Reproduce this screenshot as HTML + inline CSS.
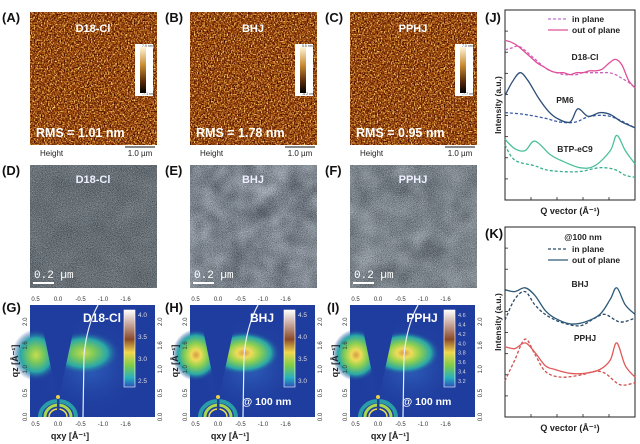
<!DOCTYPE html>
<html><head><meta charset="utf-8"><style>
html,body{margin:0;padding:0;background:#fff;}
svg{display:block;font-family:"Liberation Sans",Arial,sans-serif;}
filter{color-interpolation-filters:sRGB;}
</style></head><body>
<svg id="fig" width="640" height="444" viewBox="0 0 640 444" xmlns="http://www.w3.org/2000/svg">
<defs>
<filter id="afmc" x="0" y="0" width="100%" height="100%" color-interpolation-filters="sRGB">
 <feTurbulence type="fractalNoise" baseFrequency="0.7" numOctaves="2" seed="5" result="n"/>
 <feColorMatrix in="n" type="matrix" values="0.33 0.33 0.33 0 0  0.33 0.33 0.33 0 0  0.33 0.33 0.33 0 0  0 0 0 0 1" result="g"/>
 <feComponentTransfer in="g" result="s">
  <feFuncR type="linear" slope="3" intercept="-1"/>
  <feFuncG type="linear" slope="3" intercept="-1"/>
  <feFuncB type="linear" slope="3" intercept="-1"/>
 </feComponentTransfer>
 <feComponentTransfer in="s">
  <feFuncR type="table" tableValues="0.15 0.35 0.5 0.7 0.92 1"/>
  <feFuncG type="table" tableValues="0.03 0.1 0.2 0.38 0.68 0.9"/>
  <feFuncB type="table" tableValues="0 0.01 0.03 0.1 0.3 0.55"/>
 </feComponentTransfer>
</filter>
<filter id="tem" x="0" y="0" width="100%" height="100%" color-interpolation-filters="sRGB">
 <feTurbulence type="fractalNoise" baseFrequency="1.2" numOctaves="1" seed="7" result="n"/>
 <feColorMatrix in="n" type="matrix" values="0.33 0.33 0.33 0 0  0.33 0.33 0.33 0 0  0.33 0.33 0.33 0 0  0 0 0 0 1" result="g"/>
 <feComponentTransfer in="g">
  <feFuncR type="linear" slope="2.2" intercept="-0.6"/>
  <feFuncG type="linear" slope="2.2" intercept="-0.58"/>
  <feFuncB type="linear" slope="2.2" intercept="-0.55"/>
  <feFuncA type="linear" slope="0" intercept="0.5"/>
 </feComponentTransfer>
</filter>
<filter id="blot" x="0" y="0" width="100%" height="100%" color-interpolation-filters="sRGB">
 <feTurbulence type="fractalNoise" baseFrequency="0.045" numOctaves="2" seed="11" result="n"/>
 <feColorMatrix in="n" type="matrix" values="0.33 0.33 0.33 0 0  0.33 0.33 0.33 0 0  0.33 0.33 0.33 0 0  0 0 0 0 1" result="g"/>
 <feComponentTransfer in="g">
  <feFuncR type="linear" slope="2.5" intercept="-0.8"/>
  <feFuncG type="linear" slope="2.5" intercept="-0.77"/>
  <feFuncB type="linear" slope="2.5" intercept="-0.72"/>
  <feFuncA type="linear" slope="0" intercept="0.6"/>
 </feComponentTransfer>
</filter>
<radialGradient id="blobY" cx="50%" cy="50%" r="50%">
 <stop offset="0" stop-color="#c8dc50"/><stop offset="0.3" stop-color="#7cc85a"/><stop offset="0.65" stop-color="#2aa8a8"/><stop offset="1" stop-color="#1f3d9e" stop-opacity="0"/>
</radialGradient>
<radialGradient id="blobO" cx="50%" cy="50%" r="50%">
 <stop offset="0" stop-color="#d89a48"/><stop offset="0.2" stop-color="#eedc58"/><stop offset="0.45" stop-color="#8cd050"/><stop offset="0.75" stop-color="#2aa8a8"/><stop offset="1" stop-color="#1f3d9e" stop-opacity="0"/>
</radialGradient>
<radialGradient id="halo" cx="50%" cy="50%" r="50%">
 <stop offset="0" stop-color="#3a78d0"/><stop offset="1" stop-color="#1f3d9e" stop-opacity="0"/>
</radialGradient>
<linearGradient id="cbar" x1="0" y1="0" x2="0" y2="1">
 <stop offset="0" stop-color="#ffffff"/><stop offset="0.18" stop-color="#c8a8a0"/><stop offset="0.38" stop-color="#8a4a2a"/><stop offset="0.55" stop-color="#f2d84a"/><stop offset="0.72" stop-color="#7ccc4a"/><stop offset="0.88" stop-color="#28b0c0"/><stop offset="1" stop-color="#2a50b8"/>
</linearGradient>
<linearGradient id="afmbar" x1="0" y1="0" x2="0" y2="1">
 <stop offset="0" stop-color="#fff6d8"/><stop offset="0.4" stop-color="#c88a30"/><stop offset="0.75" stop-color="#5a2a08"/><stop offset="1" stop-color="#000"/>
</linearGradient>
</defs>
<g id="root"></g>
</svg>
<script>
// ---- J panel data (q in Å^-1 arbitrary 0..2, intensity a.u. 0..10) ----
const jQ = [0,0.1,0.2,0.3,0.4,0.5,0.6,0.7,0.8,0.9,1.0,1.1,1.2,1.3,1.4,1.5,1.6,1.7,1.8,1.9,2.0];
const d18OOP = [8.4,8.3,8.1,7.8,7.5,7.2,7.0,6.8,6.7,6.7,6.6,6.7,6.7,6.8,6.8,6.9,7.2,7.4,7.1,6.3,5.9];
const d18IP  = [7.9,8.0,8.1,7.9,7.6,7.3,7.0,6.8,6.7,6.6,6.6,6.6,6.7,6.7,6.7,6.7,6.7,6.6,6.4,6.2,5.9];
const pm6OOPq = [0,0.11,0.23,0.35,0.51,0.66,0.80,1.0,1.12,1.28,1.46,1.62,1.8,2.0];
const pm6OOP  = [5.5,6.2,6.7,6.3,5.4,4.7,4.3,4.1,4.8,4.4,4.6,4.5,4.1,3.8];
const pm6IPq = [0,0.31,0.62,0.85,1.08,1.31,1.62,2.0];
const pm6IP  = [4.6,4.5,4.3,4.1,4.1,4.4,4.4,3.8];
const btpOOPq = [0,0.15,0.31,0.46,0.69,0.85,1.15,1.38,1.62,1.72,1.85,2.0];
const btpOOP  = [3.2,2.7,2.6,3.1,2.4,2.1,1.7,1.8,2.6,3.4,2.6,1.9];
const btpIPq = [0,0.15,0.46,0.62,0.85,1.15,1.46,1.69,1.85,2.0];
const btpIP  = [2.9,2.1,1.8,1.6,1.5,1.5,1.7,1.6,1.3,1.2];
// ---- K panel data ----
const kOOPq = [0,0.15,0.31,0.46,0.62,0.77,1.0,1.23,1.46,1.62,1.72,1.85,2.0];
const bhjOOP = [6.7,6.6,6.8,6.4,5.6,5.2,4.9,5.0,5.4,6.2,6.8,5.9,5.4];
const pphjOOP = [3.7,3.6,3.9,3.4,2.7,2.5,2.3,2.3,2.5,3.0,3.9,2.7,2.1];
const kIPq = [0,0.15,0.31,0.46,0.62,0.85,1.15,1.38,1.54,1.77,2.0];
const bhjIP = [5.1,6.2,6.6,5.9,5.4,5.0,4.8,5.2,5.4,5.0,5.2];
const pphjIP = [1.9,3.0,4.1,3.3,2.4,2.1,2.2,2.4,2.3,1.7,1.8];
// ---- GIWAXS tick labels ----
const qxyTicks = ["0.5","0.0","-0.5","-1.0","-1.6"];
const qxyTickVals = [0.5,0.0,-0.5,-1.0,-1.5];
const qzTicks = ["0.0","0.5","1.0","1.6","2.0"];
const qzTickVals = [0.0,0.5,1.0,1.5,2.0];
const cbarG = ["4.0","3.5","3.0","2.5"];
const cbarH = ["4.5","4.0","3.5","3.0"];
const cbarI = ["4.6","4.4","4.2","4.0","3.8","3.6","3.4","3.2"];

const NS="http://www.w3.org/2000/svg";
const root=document.getElementById('root');
function mk(tag,attrs,parent,text){const e=document.createElementNS(NS,tag);for(const k in attrs)e.setAttribute(k,attrs[k]);if(text!==undefined)e.textContent=text;(parent||root).appendChild(e);return e;}

[["(A)",2,22],["(B)",165,22],["(C)",325,22],["(D)",2,175],["(E)",165,175],["(F)",325,175],["(G)",2,312],["(H)",165,312],["(I)",327,312],["(J)",485,22],["(K)",485,238]].forEach(p=>{
 const t=mk('text',{x:p[1],y:p[2],'font-size':13,'font-weight':'bold',fill:'#111'},root,p[0]);
 
 
});

const afm=[{x:30,lab:"D18-Cl",rms:"RMS = 1.01 nm",hi:"7.9 nm",lo:"-7.1 nm"},{x:190,lab:"BHJ",rms:"RMS = 1.78 nm",hi:"5.5 nm",lo:"-5.2 nm"},{x:350,lab:"PPHJ",rms:"RMS = 0.95 nm",hi:"7.0 nm",lo:"-7.7 nm"}];
afm.forEach((a,i)=>{
 const g=mk('g',{});
 
 
 mk('rect',{x:a.x,y:12,width:127,height:133,fill:'#6a2a08'},g);
 mk('rect',{x:a.x,y:12,width:127,height:133,filter:'url(#afmc)'},g);
 mk('text',{x:a.x+63,y:32,'font-size':11,'font-weight':'bold',fill:'#fff','text-anchor':'middle'},g,a.lab);
 mk('text',{x:a.x+6,y:137,'font-size':12.5,'font-weight':'bold',fill:'#fff'},g,a.rms);
 mk('rect',{x:a.x+105,y:44,width:18,height:52,fill:'#fff'},g);
 mk('rect',{x:a.x+110,y:47,width:6,height:46,fill:'url(#afmbar)'},g);
 mk('text',{x:a.x+112,y:47,'font-size':3.5,fill:'#333'},g,a.hi);
 mk('text',{x:a.x+112,y:95,'font-size':3.5,fill:'#333'},g,a.lo);
 mk('text',{x:a.x+10,y:156,'font-size':8,fill:'#222'},g,"Height");
 mk('line',{x1:a.x+95,y1:147,x2:a.x+125,y2:147,stroke:'#111','stroke-width':1},g);
 mk('text',{x:a.x+110,y:156,'font-size':8,fill:'#222','text-anchor':'middle'},g,"1.0 µm");
});

const tem=[{x:30,lab:"D18-Cl",base:'#4e5a5e',blot:0.2},{x:190,lab:"BHJ",base:'#86939a',blot:0.9},{x:350,lab:"PPHJ",base:'#7d898e',blot:0.6}];
tem.forEach(t=>{
 const g=mk('g',{});
 
 
 mk('rect',{x:t.x,y:165,width:127,height:123,fill:t.base},g);
 mk('rect',{x:t.x,y:165,width:127,height:123,filter:'url(#blot)',opacity:t.blot},g);
 mk('rect',{x:t.x,y:165,width:127,height:123,filter:'url(#tem)'},g);
 mk('text',{x:t.x+63,y:183,'font-size':11,'font-weight':'bold',fill:'#eef','text-anchor':'middle'},g,t.lab);
 mk('text',{x:t.x+4,y:278,'font-size':11,fill:'#fff','font-family':'Liberation Mono, monospace'},g,"0.2 µm");
 mk('line',{x1:t.x+3,y1:283,x2:t.x+24,y2:283,stroke:'#fff','stroke-width':2},g);
});

const gi=[{x:30,lab:"D18-Cl",bright:false,cb:cbarG,sub:false},{x:190,lab:"BHJ",bright:true,cb:cbarH,sub:true},{x:350,lab:"PPHJ",bright:true,cb:cbarI,sub:true}];
gi.forEach(p=>{
 const ox=p.x, oy=305, W=125, H=112;
 const sx=v=>ox+28-v*45;
 const sy=v=>oy+H-v*(H/2.35);
 const g=mk('g',{});
 
 
 mk('rect',{x:ox,y:oy,width:W,height:H,fill:'#1f3d9e'},g);
 mk('ellipse',{cx:ox+60,cy:oy+62,rx:55,ry:50,fill:'url(#halo)',opacity:0.6},g);
 mk('ellipse',{cx:ox+6,cy:oy+50,rx:24,ry:26,fill:p.bright?'url(#blobO)':'url(#blobY)'},g);
 mk('ellipse',{cx:ox+54,cy:oy+48,rx:36,ry:22,fill:p.bright?'url(#blobO)':'url(#blobY)'},g);
 mk('polygon',{points:`${ox+8},${oy} ${ox+49},${oy} ${ox+29},${oy+92} ${ox+27},${oy+92}`,fill:'#1f3d9e'},g);
 mk('path',{d:`M${ox+10},${oy+H} A18 16 0 0 1 ${ox+46},${oy+H}`,fill:'none',stroke:'#2aa8a8','stroke-width':4,opacity:0.9},g);
 mk('path',{d:`M${ox+15},${oy+H} A13 12 0 0 1 ${ox+41},${oy+H}`,fill:'none',stroke:'#a8d850','stroke-width':3},g);
 mk('path',{d:`M${ox+19},${oy+H} A9 8 0 0 1 ${ox+37},${oy+H}`,fill:'none',stroke:'#f0e050','stroke-width':1.5},g);
 mk('rect',{x:ox+27,y:oy+84,width:2.5,height:28,fill:'#1f3d9e'},g);
 mk('circle',{cx:ox+28,cy:oy+92,r:2,fill:'#e8d050'},g);
 mk('path',{d:`M${ox+53},${oy+H} L${ox+54},${oy+50} Q${ox+57},${oy+20} ${ox+68},${oy}`,fill:'none',stroke:'#e8eef8','stroke-width':1.2},g);
 mk('rect',{x:ox+94,y:oy+5,width:11,height:77,fill:'url(#cbar)',stroke:'#fff','stroke-width':0.6},g);
 p.cb.forEach((c,k)=>{
  const yy=oy+10+k*(66/(p.cb.length-1));
  const t=mk('text',{x:ox+108,y:yy+2,'font-size':p.cb.length>4?5.5:6.5,fill:'#ddd'},g,c);
  
  
 });
 mk('text',{x:ox+72,y:oy+17,'font-size':12,'font-weight':'bold',fill:'#fff','text-anchor':'middle'},g,p.lab);
 if(p.sub) mk('text',{x:ox+52,y:oy+100,'font-size':10.5,'font-weight':'bold',fill:'#fff'},g,"@ 100 nm");
 qxyTickVals.forEach((v,k)=>{
  const xx=sx(v);
  mk('text',{x:xx,y:oy-4,'font-size':6,fill:'#333','text-anchor':'middle'},g,qxyTicks[k]);
  mk('text',{x:xx,y:oy+H+9,'font-size':6,fill:'#333','text-anchor':'middle'},g,qxyTicks[k]);
 });
 qzTickVals.forEach((v,k)=>{
  const yy=sy(v);
  mk('text',{x:ox-3,y:yy,'font-size':6,fill:'#333','text-anchor':'middle',transform:`rotate(-90 ${ox-3} ${yy})`},g,qzTicks[k]);
  mk('text',{x:ox+W+7,y:yy,'font-size':6,fill:'#333','text-anchor':'middle',transform:`rotate(-90 ${ox+W+7} ${yy})`},g,qzTicks[k]);
 });
 mk('text',{x:ox-12,y:oy+56,'font-size':9,'font-weight':'bold',fill:'#222','text-anchor':'middle',transform:`rotate(-90 ${ox-12} ${oy+56})`},g,"qz [Å⁻¹]");
 mk('text',{x:ox+40,y:oy+H+22,'font-size':9,'font-weight':'bold',fill:'#222','text-anchor':'middle'},g,"qxy [Å⁻¹]");
});

function smooth(pts){let d=`M${pts[0][0]},${pts[0][1]}`;for(let i=0;i<pts.length-1;i++){const p0=pts[i-1]||pts[i],p1=pts[i],p2=pts[i+1],p3=pts[i+2]||p2;const c1=[p1[0]+(p2[0]-p0[0])/6,p1[1]+(p2[1]-p0[1])/6],c2=[p2[0]-(p3[0]-p1[0])/6,p2[1]-(p3[1]-p1[1])/6];d+=` C${c1[0].toFixed(1)},${c1[1].toFixed(1)} ${c2[0].toFixed(1)},${c2[1].toFixed(1)} ${p2[0].toFixed(1)},${p2[1].toFixed(1)}`;}return d;}
function chart(box,name,series,legend,labels){
 const g=mk('g',{});
 
 
 const xS=q=>box.x+q/2*box.w, yS=v=>box.y+box.h-v/10*box.h;
 mk('rect',{x:box.x,y:box.y,width:box.w,height:box.h,fill:'none',stroke:'#222','stroke-width':1},g);
 for(let k=1;k<9;k++){mk('line',{x1:box.x,y1:box.y+k*box.h/9,x2:box.x+3,y2:box.y+k*box.h/9,stroke:'#222','stroke-width':0.8},g);}
 for(let k=1;k<5;k++){mk('line',{x1:box.x+k*box.w/5,y1:box.y+box.h,x2:box.x+k*box.w/5,y2:box.y+box.h-3,stroke:'#222','stroke-width':0.8},g);}
 series.forEach(s=>{
  const pts=s.q.map((q,i)=>[xS(q),yS(s.v[i])]);
  const p=mk('path',{d:smooth(pts),fill:'none',stroke:s.c,'stroke-width':1.3,'stroke-dasharray':s.dash?'3,2':'none'},g);
  
  
 });
 legend.forEach(l=>{
  mk('line',{x1:l.x,y1:l.y-3,x2:l.x+20,y2:l.y-3,stroke:l.c,'stroke-width':1.3,'stroke-dasharray':l.dash?'3,2':'none'},g);
  const t=mk('text',{x:l.x+24,y:l.y,'font-size':8.5,'font-weight':'bold',fill:'#222'},g,l.t);
  
  
 });
 labels.forEach(l=>mk('text',{x:l[1],y:l[2],'font-size':8.5,'font-weight':'bold',fill:'#222','text-anchor':'middle'},g,l[0]));
 mk('text',{x:box.x-4,y:box.y+box.h/2,'font-size':8.5,'font-weight':'bold',fill:'#222','text-anchor':'middle',transform:`rotate(-90 ${box.x-4} ${box.y+box.h/2})`},g,"Intensity (a.u.)");
 mk('text',{x:box.x+box.w/2,y:box.y+box.h+14,'font-size':9,'font-weight':'bold',fill:'#222','text-anchor':'middle'},g,"Q vector (Å⁻¹)");
}
chart({x:505,y:10,w:130,h:190},'giwaxs-linecut-j',[
 {q:jQ,v:d18IP,c:'#d060c0',dash:true,n:'d18-in-plane'},
 {q:jQ,v:d18OOP,c:'#e0509a',dash:false,n:'d18-out-of-plane'},
 {q:pm6IPq,v:pm6IP,c:'#3a5aa8',dash:true,n:'pm6-in-plane'},
 {q:pm6OOPq,v:pm6OOP,c:'#2e4f78',dash:false,n:'pm6-out-of-plane'},
 {q:btpIPq,v:btpIP,c:'#3aaf90',dash:true,n:'btp-in-plane'},
 {q:btpOOPq,v:btpOOP,c:'#4cc09c',dash:false,n:'btp-out-of-plane'}
],[{x:548,y:22,c:'#c070d0',dash:true,t:'in plane'},{x:548,y:33,c:'#e0509a',dash:false,t:'out of plane'}],
 [["D18-Cl",585,60],["PM6",565,103],["BTP-eC9",575,152]]);
chart({x:505,y:227,w:130,h:190},'giwaxs-linecut-k',[
 {q:kIPq,v:bhjIP,c:'#2a4a6a',dash:true,n:'bhj-in-plane'},
 {q:kOOPq,v:bhjOOP,c:'#2e5a78',dash:false,n:'bhj-out-of-plane'},
 {q:kIPq,v:pphjIP,c:'#d05050',dash:true,n:'pphj-in-plane'},
 {q:kOOPq,v:pphjOOP,c:'#e05a5a',dash:false,n:'pphj-out-of-plane'}
],[{x:548,y:252,c:'#2a4a6a',dash:true,t:'in plane'},{x:548,y:263,c:'#2e5a78',dash:false,t:'out of plane'}],
 [["@100 nm",583,240],["BHJ",580,287],["PPHJ",585,341]]);
</script>
</body></html>
